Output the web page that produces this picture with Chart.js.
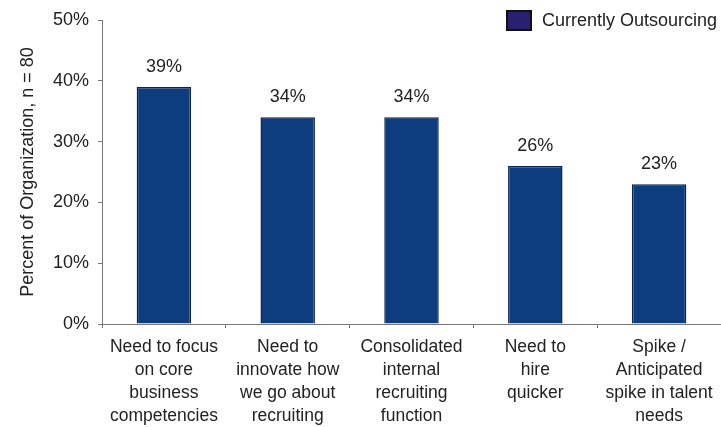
<!DOCTYPE html>
<html>
<head>
<meta charset="utf-8">
<script src="https://cdn.jsdelivr.net/npm/chart.js@4/dist/chart.umd.min.js"></script>
<style>
  html, body { margin: 0; padding: 0; background: #fff; overflow: hidden; }
  #wrap { position: relative; width: 721px; height: 427px; }
  #legend { position: absolute; left: 506px; top: 10px; font: 18px "Liberation Sans", Arial, sans-serif; color: #222; display: flex; align-items: center; white-space: nowrap; }
  #legend .box { width: 22px; height: 17px; background: #2b1f6f; border: 2px solid #111; margin-right: 10px; }
</style>
</head>
<body>
<div id="wrap">
  <canvas id="chart" width="721" height="427"></canvas>
  <div id="legend"><span class="box"></span><span id="legendText"></span></div>
</div>
<script>
// data
const categories = [
  ['Need to focus', 'on core', 'business', 'competencies'],
  ['Need to', 'innovate how', 'we go about', 'recruiting'],
  ['Consolidated', 'internal', 'recruiting', 'function'],
  ['Need to', 'hire', 'quicker'],
  ['Spike /', 'Anticipated', 'spike in talent', 'needs']
];
const seriesName = 'Currently Outsourcing';
const outsourcing = [39, 34, 34, 26, 23];
const yTicks = [0, 10, 20, 30, 40, 50];

document.getElementById('legendText').textContent = seriesName;

const FONT = '"Liberation Sans", Arial, sans-serif';
const TEXT = '#222';

// value labels above each bar
const barLabels = {
  id: 'barLabels',
  afterDatasetsDraw(chart) {
    const ctx = chart.ctx;
    const meta = chart.getDatasetMeta(0);
    ctx.save();
    ctx.font = '18px ' + FONT;
    ctx.fillStyle = TEXT;
    ctx.textAlign = 'center';
    ctx.textBaseline = 'alphabetic';
    meta.data.forEach((bar, i) => {
      ctx.fillText(outsourcing[i] + '%', bar.x, bar.y - 15);
    });
    ctx.restore();
  }
};

new Chart(document.getElementById('chart').getContext('2d'), {
  type: 'bar',
  data: {
    labels: categories,
    datasets: [{
      label: seriesName,
      data: outsourcing,
      backgroundColor: '#0e3d7e',
      borderColor: '#0a2350',
      borderWidth: 1.5,
      categoryPercentage: 1,
      barPercentage: 0.44
    }]
  },
  options: {
    responsive: false,
    animation: false,
    layout: { padding: { top: 20, right: 0, bottom: 0, left: 0 } },
    plugins: {
      legend: { display: false },
      tooltip: { enabled: false }
    },
    scales: {
      x: {
        offset: true,
        border: { color: '#777', width: 1 },
        grid: { offset: true, drawOnChartArea: false, drawTicks: true, tickLength: 4, color: '#777' },
        ticks: {
          color: TEXT,
          font: { family: FONT, size: 17.5, lineHeight: 1.31 },
          maxRotation: 0,
          autoSkip: false,
          padding: 8
        },
        afterFit(scale) { scale.height = 103; }
      },
      y: {
        min: 0,
        max: 50,
        afterBuildTicks(scale) { scale.ticks = yTicks.map(v => ({ value: v })); },
        border: { color: '#777', width: 1 },
        grid: { drawOnChartArea: false, drawTicks: true, tickLength: 4, color: '#777' },
        ticks: {
          color: TEXT,
          font: { family: FONT, size: 18 },
          padding: 9,
          callback: v => v + '%'
        },
        title: {
          display: true,
          text: 'Percent of Organization, n = 80',
          color: TEXT,
          font: { family: FONT, size: 18 },
          padding: { top: 17, bottom: 0 }
        },
        afterFit(scale) { scale.width = 102; }
      }
    }
  },
  plugins: [barLabels]
});
</script>
</body>
</html>
